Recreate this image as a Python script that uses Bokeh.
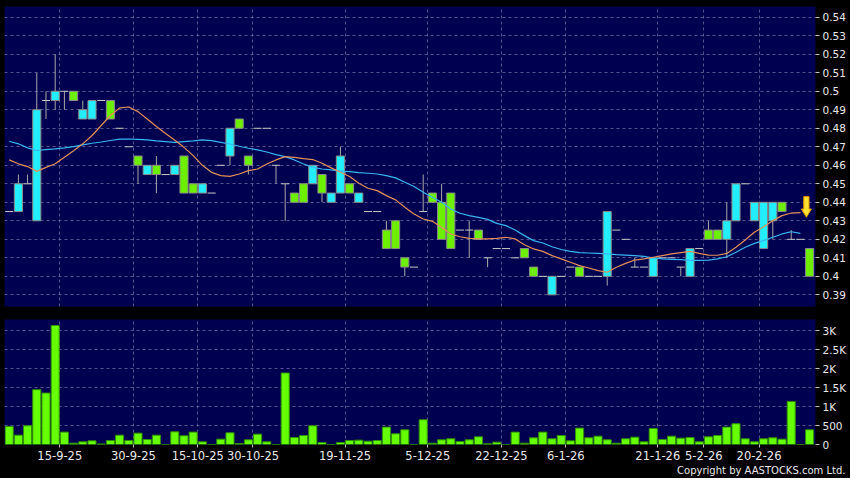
import numpy as np
from bokeh.plotting import figure
from bokeh.models import Range1d, FixedTicker, Title
from bokeh.layouts import column
from bokeh.embed import file_html
from bokeh.resources import INLINE

# ---------------- data ----------------
opens = [0.435, 0.435, 0.45, 0.43, 0.495, 0.495, 0.50, 0.50, 0.485, 0.485,
         0.495, 0.495, 0.48, 0.47, 0.465, 0.455, 0.46, 0.455, 0.455, 0.465,
         0.45, 0.445, 0.445, 0.46, 0.465, 0.485, 0.465, 0.48, 0.48, 0.46,
         0.45, 0.445, 0.45, 0.45, 0.455, 0.44, 0.445, 0.45, 0.44, 0.435,
         0.435, 0.425, 0.43, 0.41, 0.405, 0.435, 0.445, 0.44, 0.445, 0.425,
         0.425, 0.425, 0.41, 0.415, 0.415, 0.41, 0.415, 0.405, 0.40, 0.39,
         0.40, 0.405, 0.405, 0.40, 0.40, 0.40, 0.425, 0.42, 0.405, 0.405,
         0.40, 0.41, 0.41, 0.405, 0.40, 0.415, 0.425, 0.425, 0.42, 0.43,
         0.45, 0.43, 0.415, 0.43, 0.44, 0.42, 0.42, 0.415]
highs = [0.435, 0.455, 0.455, 0.51, 0.50, 0.52, 0.50, 0.50, 0.495, 0.495,
         0.495, 0.495, 0.48, 0.47, 0.465, 0.46, 0.465, 0.455, 0.46, 0.465,
         0.45, 0.45, 0.445, 0.46, 0.48, 0.485, 0.465, 0.48, 0.48, 0.46,
         0.45, 0.445, 0.45, 0.46, 0.455, 0.445, 0.47, 0.45, 0.445, 0.435,
         0.435, 0.43, 0.43, 0.41, 0.405, 0.455, 0.445, 0.45, 0.445, 0.425,
         0.43, 0.425, 0.41, 0.415, 0.415, 0.41, 0.415, 0.405, 0.40, 0.40,
         0.40, 0.405, 0.405, 0.40, 0.40, 0.435, 0.425, 0.42, 0.41, 0.405,
         0.41, 0.41, 0.41, 0.405, 0.415, 0.415, 0.43, 0.425, 0.44, 0.45,
         0.45, 0.44, 0.44, 0.44, 0.44, 0.425, 0.42, 0.415]
lows = [0.435, 0.435, 0.45, 0.43, 0.485, 0.49, 0.49, 0.495, 0.485, 0.485,
        0.495, 0.485, 0.48, 0.47, 0.45, 0.455, 0.445, 0.455, 0.455, 0.445,
        0.445, 0.445, 0.445, 0.46, 0.46, 0.48, 0.455, 0.48, 0.48, 0.45,
        0.43, 0.44, 0.44, 0.45, 0.44, 0.44, 0.445, 0.445, 0.44, 0.435,
        0.435, 0.415, 0.415, 0.40, 0.405, 0.435, 0.44, 0.42, 0.415, 0.425,
        0.41, 0.42, 0.405, 0.415, 0.415, 0.41, 0.41, 0.40, 0.40, 0.39,
        0.40, 0.405, 0.40, 0.40, 0.40, 0.395, 0.425, 0.42, 0.405, 0.405,
        0.40, 0.41, 0.41, 0.40, 0.40, 0.415, 0.42, 0.42, 0.41, 0.43,
        0.45, 0.43, 0.415, 0.42, 0.435, 0.42, 0.42, 0.40]
closes = [0.435, 0.45, 0.45, 0.49, 0.495, 0.50, 0.50, 0.495, 0.49, 0.495,
          0.495, 0.485, 0.48, 0.47, 0.46, 0.46, 0.455, 0.455, 0.46, 0.445,
          0.445, 0.45, 0.445, 0.46, 0.48, 0.48, 0.46, 0.48, 0.48, 0.46,
          0.45, 0.44, 0.44, 0.46, 0.445, 0.445, 0.465, 0.445, 0.445, 0.435,
          0.435, 0.415, 0.415, 0.405, 0.405, 0.435, 0.44, 0.42, 0.415, 0.425,
          0.425, 0.42, 0.41, 0.415, 0.415, 0.41, 0.41, 0.40, 0.40, 0.40,
          0.40, 0.405, 0.40, 0.40, 0.40, 0.435, 0.425, 0.42, 0.405, 0.405,
          0.41, 0.41, 0.41, 0.405, 0.415, 0.415, 0.42, 0.42, 0.43, 0.45,
          0.45, 0.44, 0.44, 0.44, 0.435, 0.42, 0.42, 0.40]
volumes = [475, 246, 493, 1443, 1355, 3132, 326, 35, 70, 97,
           15, 106, 246, 106, 299, 132, 246, 0, 334, 229,
           326, 70, 0, 141, 308, 26, 123, 273, 70, 0,
           1883, 185, 238, 493, 53, 0, 53, 106, 114, 88,
           106, 458, 282, 387, 0, 651, 35, 123, 150, 79,
           123, 202, 18, 62, 0, 326, 35, 176, 326, 150,
           238, 97, 431, 176, 220, 123, 35, 150, 194, 70,
           422, 132, 220, 167, 185, 70, 202, 238, 458, 546,
           150, 70, 150, 176, 141, 1135, 0, 387]
ma10 = [0.4629, 0.4608, 0.4593, 0.4567, 0.4589, 0.4608, 0.4643, 0.4679, 0.4716, 0.4761,
        0.4815, 0.4869, 0.4910, 0.4915, 0.4890, 0.4850, 0.4810, 0.4772, 0.4735, 0.4697,
        0.4652, 0.4600, 0.4562, 0.4544, 0.4540, 0.4553, 0.4571, 0.4580, 0.4607, 0.4629,
        0.4647, 0.4643, 0.4636, 0.4631, 0.4611, 0.4586, 0.4562, 0.4539, 0.4503, 0.4476,
        0.4463, 0.4436, 0.4413, 0.4373, 0.4337, 0.4310, 0.4297, 0.4265, 0.4229, 0.4214,
        0.4205, 0.4202, 0.4202, 0.4205, 0.4211, 0.4202, 0.4171, 0.4148, 0.4135, 0.4112,
        0.4094, 0.4076, 0.4058, 0.4045, 0.4031, 0.4022, 0.4049, 0.4070, 0.4088, 0.4094,
        0.4103, 0.4112, 0.4121, 0.4128, 0.4135, 0.4124, 0.4115, 0.4114, 0.4124, 0.4157,
        0.4196, 0.4238, 0.4268, 0.4301, 0.4328, 0.4342, 0.4344]
ma20 = [0.4730, 0.4716, 0.4694, 0.4680, 0.4685, 0.4689, 0.4694, 0.4701, 0.4710, 0.4719,
        0.4726, 0.4734, 0.4741, 0.4742, 0.4740, 0.4737, 0.4732, 0.4728, 0.4724, 0.4728,
        0.4732, 0.4737, 0.4733, 0.4724, 0.4715, 0.4703, 0.4692, 0.4683, 0.4672, 0.4658,
        0.4647, 0.4629, 0.4607, 0.4589, 0.4580, 0.4575, 0.4568, 0.4566, 0.4560, 0.4557,
        0.4553, 0.4544, 0.4532, 0.4508, 0.4485, 0.4454, 0.4427, 0.4400, 0.4364, 0.4341,
        0.4328, 0.4319, 0.4308, 0.4286, 0.4274, 0.4250, 0.4220, 0.4193, 0.4180, 0.4160,
        0.4145, 0.4135, 0.4128, 0.4126, 0.4124, 0.4121, 0.4117, 0.4115, 0.4112, 0.4108,
        0.4099, 0.4094, 0.4092, 0.4090, 0.4086, 0.4086, 0.4088, 0.4094, 0.4106, 0.4130,
        0.4157, 0.4178, 0.4193, 0.4211, 0.4229, 0.4241, 0.4232]
date_labels = ["15-9-25", "30-9-25", "15-10-25", "30-10-25", "19-11-25", "5-12-25",
               "22-12-25", "6-1-26", "21-1-26", "5-2-26", "20-2-26"]
date_index = [5.5, 13.5, 20.5, 26.5, 36.5, 45.5, 53.5, 60.5, 70.5, 75.5, 81.5]
price_ticks = [0.39, 0.4, 0.41, 0.42, 0.43, 0.44, 0.45, 0.46, 0.47, 0.48,
               0.49, 0.5, 0.51, 0.52, 0.53, 0.54]
volume_ticks = [0, 500, 1000, 1500, 2000, 2500, 3000]
volume_tick_labels = ["0", "500", "1K", "1.5K", "2K", "2.5K", "3K"]
copyright_text = "Copyright by AASTOCKS.com Ltd."

# ---------------- styling ----------------
BG = "#000000"
PLOT_BG = "#000050"
GRID = "#8080b0"
CYAN = "#22eeff"
GREEN = "#6cf000"
VOL_GREEN = "#66ff00"
OUTLINE = "#8a8a8a"
WICK = "#a8a8a8"
DOJI = "#c8c8c8"
MA10_C = "#e0905a"
MA20_C = "#3ab4f2"
TXT = "#e8e8e8"
FONT = "DejaVu Sans"

n = len(opens)
idx = np.arange(n)
o = np.array(opens)
c = np.array(closes)
h = np.array(highs)
l = np.array(lows)
up = c > o
dn = c < o
flat = c == o
BW = 0.88

x_range = Range1d(-0.51, n - 1 + 0.64)

# ---------------- price chart ----------------
p = figure(width=850, height=312, x_range=x_range, y_range=Range1d(0.3837, 0.5458),
           y_axis_location="right", output_backend="svg", toolbar_location=None,
           background_fill_color=PLOT_BG, border_fill_color=BG,
           min_border_left=4, min_border_right=35, min_border_top=6, min_border_bottom=6)
p.outline_line_color = None
p.xaxis.visible = False
p.xgrid.ticker = FixedTicker(ticks=date_index)
p.yaxis.ticker = FixedTicker(ticks=price_ticks)
p.yaxis.major_label_overrides = {t: f"{t:g}" for t in price_ticks}
for g in (p.xgrid, p.ygrid):
    g.grid_line_color = GRID
    g.grid_line_alpha = 0.65
    g.grid_line_dash = "3 3"
ya = p.yaxis[0]
ya.axis_line_color = None
ya.major_tick_in = 0
ya.major_tick_out = 4
ya.major_tick_line_color = "#c0c0c0"
ya.minor_tick_line_color = None
ya.major_label_standoff = 3
ya.major_label_text_color = TXT
ya.major_label_text_font = FONT
ya.major_label_text_font_size = "10.5px"

wick_mask = h > l
p.segment(x0=idx[wick_mask], y0=l[wick_mask], x1=idx[wick_mask], y1=h[wick_mask],
          line_color=WICK, line_width=1)
p.vbar(x=idx[up], width=BW, top=c[up], bottom=o[up],
       fill_color=CYAN, line_color=OUTLINE, line_width=1)
p.vbar(x=idx[dn], width=BW, top=o[dn], bottom=c[dn],
       fill_color=GREEN, line_color=OUTLINE, line_width=1)
p.segment(x0=idx[flat] - BW / 2, y0=o[flat], x1=idx[flat] + BW / 2, y1=o[flat],
          line_color=DOJI, line_width=1)

mi = np.arange(len(ma10))
p.line(mi, ma20, line_color=MA20_C, line_width=1.2)
p.line(mi, ma10, line_color=MA10_C, line_width=1.2)

# down arrow marker at the end of the short moving average
ax = mi[-1] + 0.65
ay = ma10[-1] - 0.0025
arrow_dx = [0, 0.55, 0.29, 0.29, -0.29, -0.29, -0.55]
arrow_dy = [0, 0.0045, 0.0045, 0.0112, 0.0112, 0.0045, 0.0045]
p.patch([ax + d for d in arrow_dx], [ay + d for d in arrow_dy],
        fill_color="#ffe030", line_color="#d89000", line_width=1)

# ---------------- volume chart ----------------
v = figure(width=850, height=166, x_range=x_range, y_range=Range1d(0, 3290),
           y_axis_location="right", output_backend="svg", toolbar_location=None,
           background_fill_color=PLOT_BG, border_fill_color=BG,
           min_border_left=4, min_border_right=35, min_border_top=7, min_border_bottom=34)
v.outline_line_color = None
v.xaxis.ticker = FixedTicker(ticks=date_index)
v.xaxis.major_label_overrides = dict(zip(date_index, date_labels))
v.yaxis.ticker = FixedTicker(ticks=volume_ticks)
v.yaxis.major_label_overrides = dict(zip(volume_ticks, volume_tick_labels))
for g in (v.xgrid, v.ygrid):
    g.grid_line_color = GRID
    g.grid_line_alpha = 0.65
    g.grid_line_dash = "3 3"
for a in (v.xaxis[0], v.yaxis[0]):
    a.axis_line_color = None
    a.major_tick_in = 0
    a.major_tick_line_color = "#c0c0c0"
    a.minor_tick_line_color = None
    a.major_label_text_color = TXT
    a.major_label_text_font = FONT
v.yaxis[0].major_tick_out = 4
v.yaxis[0].major_label_standoff = 3
v.yaxis[0].major_label_text_font_size = "10.5px"
v.xaxis[0].major_tick_out = 3
v.xaxis[0].major_label_standoff = 3
v.xaxis[0].major_label_text_font_size = "11.5px"

v.vbar(x=idx, width=BW, top=volumes, bottom=0,
       fill_color=VOL_GREEN, line_color="#2f8f00", line_width=1)

v.add_layout(Title(text=copyright_text, align="right", offset=-30, standoff=0,
                   text_font=FONT, text_font_size="10px", text_font_style="normal",
                   text_color=TXT), "below")

layout = column(p, v, spacing=0, background=BG)

html = file_html(layout, INLINE, "chart")
html = html.replace("<body>", '<body style="background-color:#000000;">', 1)
open("out.html", "w").write(html)
